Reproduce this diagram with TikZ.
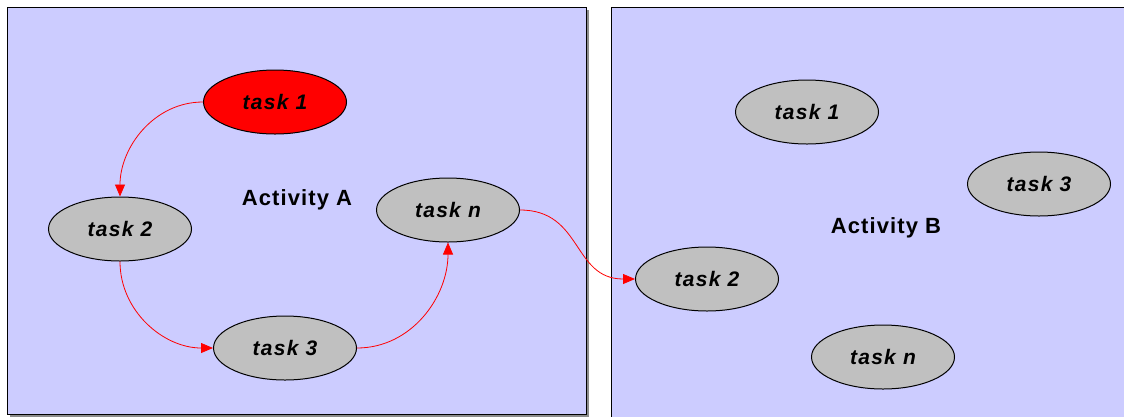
\documentclass[tikz,border=0pt]{standalone}
\usepackage{fontspec}
\setmainfont{Liberation Sans}
\usetikzlibrary{arrows.meta,shapes.geometric}
\definecolor{panel}{HTML}{CCCCFF}
\definecolor{taskgray}{HTML}{C0C0C0}
\definecolor{hot}{HTML}{FF0000}
\definecolor{shadowgray}{HTML}{8C8C8C}
\tikzset{
  panelbox/.style={draw=black, fill=panel, line width=0.9pt},
  panelshadow/.style={fill=shadowgray},
  task/.style={ellipse, draw=black, fill=taskgray, line width=1pt,
    minimum width=143pt, minimum height=64pt, inner sep=0pt,
    font=\fontsize{21}{25}\selectfont\bfseries\itshape\addfontfeatures{LetterSpace=6}},
  hottask/.style={task, fill=hot},
  flow/.style={draw=hot, line width=0.8pt, -{Triangle[length=12pt,width=10pt]}},
  lab/.style={font=\fontsize{22}{26}\selectfont\bfseries\addfontfeatures{LetterSpace=5}},
}

\begin{document}
\begin{tikzpicture}[x=1pt, y=-1pt]
  \useasboundingbox (0,0) rectangle (1124,416);
  \clip (0,0) rectangle (1124,416);
  % the two activity panels
  \fill[panelshadow] (10,10) rectangle (589,420);
  \fill[panelshadow] (614,10) rectangle (1134,420);
  \draw[panelbox] (7,7) rectangle (586,414);
  \draw[panelbox] (611,7) rectangle (1130,420);
  \node[lab] (actA) at (297,200) {Activity A};
  \node[lab] (actB) at (886,228) {Activity B};
  % activity A
  \node[hottask] (a1) at (275,102) {task 1};
  \node[task] (a2) at (120,229) {task 2};
  \node[task] (a3) at (285,348) {task 3};
  \node[task] (an) at (448,210) {task \textit{n}};
  % activity B
  \node[task] (b1) at (807,112) {task 1};
  \node[task] (b2) at (707,279) {task 2};
  \node[task] (b3) at (1039,184) {task 3};
  \node[task] (bn) at (883,357) {task \textit{n}};
  % control flow
  \draw[flow] (a1.west) to[out=180, in=90] (a2.north);
  \draw[flow] (a2.south) to[out=-90, in=180] (a3.west);
  \draw[flow] (a3.east) to[out=0, in=-90] (an.south);
  \draw[flow] (an.east) to[out=0, in=180, looseness=1.2] (b2.west);
\end{tikzpicture}
\end{document}
